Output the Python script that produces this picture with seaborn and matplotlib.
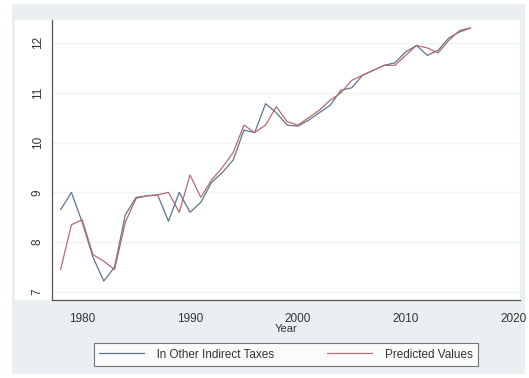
import matplotlib
matplotlib.use("Agg")
import matplotlib.pyplot as plt
import matplotlib.patches as mpatches
import seaborn as sns
import pandas as pd

years = list(range(1978, 2017))
actual = [8.65, 9.0, 8.4, 7.7, 7.22, 7.5, 8.55, 8.9, 8.93, 8.95, 8.42, 9.0, 8.6,
          8.8, 9.2, 9.4, 9.65, 10.25, 10.2, 10.78, 10.6, 10.35, 10.33, 10.45, 10.6,
          10.75, 11.05, 11.1, 11.35, 11.45, 11.55, 11.6, 11.82, 11.95, 11.75, 11.85,
          12.1, 12.22, 12.3]
predicted = [7.45, 8.35, 8.45, 7.75, 7.62, 7.45, 8.4, 8.88, 8.93, 8.95, 9.0, 8.6,
             9.35, 8.9, 9.25, 9.5, 9.8, 10.35, 10.2, 10.35, 10.72, 10.42, 10.35,
             10.5, 10.65, 10.85, 11.0, 11.25, 11.35, 11.45, 11.55, 11.55, 11.75,
             11.95, 11.9, 11.8, 12.05, 12.25, 12.3]
labels = ["ln Other Indirect Taxes", "Predicted Values"]

df = pd.concat([
    pd.DataFrame({"Year": years, "value": actual, "series": labels[0]}),
    pd.DataFrame({"Year": years, "value": predicted, "series": labels[1]}),
])

sns.set_style("white")
plt.rcParams["font.family"] = ["Liberation Sans", "DejaVu Sans"]

bg = "#eaf0f2"
W, H = 529, 378
fig = plt.figure(figsize=(W / 100, H / 100), dpi=100, facecolor="white")
# outer graph region
fig.patches.append(mpatches.Rectangle((12 / W, 4 / H), 513 / W, 370 / H,
                                      transform=fig.transFigure, facecolor=bg,
                                      edgecolor="none", zorder=-10))
# white inner region
fig.patches.append(mpatches.Rectangle((15 / W, 1 - 300 / H), 505 / W, 280 / H,
                                      transform=fig.transFigure, facecolor="white",
                                      edgecolor="none", zorder=-9))

ax = fig.add_axes([52 / W, 1 - 300 / H, 468 / W, 280 / H])
ax.set_facecolor("white")
ax.set_zorder(1)

sns.lineplot(data=df, x="Year", y="value", hue="series", ax=ax,
             palette=["#5b7590", "#b76a72"], linewidth=0.9, legend=False)

ax.set_xlim(1977.2, 2020.6)
ax.set_ylim(6.84, 12.46)
ax.set_xticks([1980, 1990, 2000, 2010, 2020])
ax.set_yticks([7, 8, 9, 10, 11, 12])
ax.set_yticklabels(["7", "8", "9", "10", "11", "12"], rotation=90, va="center")
ax.grid(axis="y", color="#eef3f4", linewidth=1.0)
ax.tick_params(axis="both", direction="out", length=4, width=0.8, color="#555555",
               labelsize=8.5, labelcolor="#333333")
ax.tick_params(axis="x", pad=5)
ax.tick_params(axis="y", pad=2)

for side in ["top", "right"]:
    ax.spines[side].set_visible(False)
for side in ["left", "bottom"]:
    ax.spines[side].set_color("#555555")
    ax.spines[side].set_linewidth(0.9)

ax.set_xlabel("Year", fontsize=8, color="#333333", labelpad=0)
ax.set_ylabel("")

handles = [plt.Line2D([], [], color="#5b7590", linewidth=0.9),
           plt.Line2D([], [], color="#b76a72", linewidth=0.9)]
leg = fig.legend(handles, labels, loc="center", bbox_to_anchor=(286 / W, 1 - 354.5 / H),
                 ncol=2, fontsize=8.5, frameon=True, fancybox=False, handlelength=3.8,
                 handletextpad=1.1, columnspacing=4.5, borderpad=0.45)
leg.get_frame().set_edgecolor("#555555")
leg.get_frame().set_linewidth(0.8)
for t in leg.get_texts():
    t.set_color("#333333")

fig.savefig("out.png", dpi=100, facecolor=fig.get_facecolor())
